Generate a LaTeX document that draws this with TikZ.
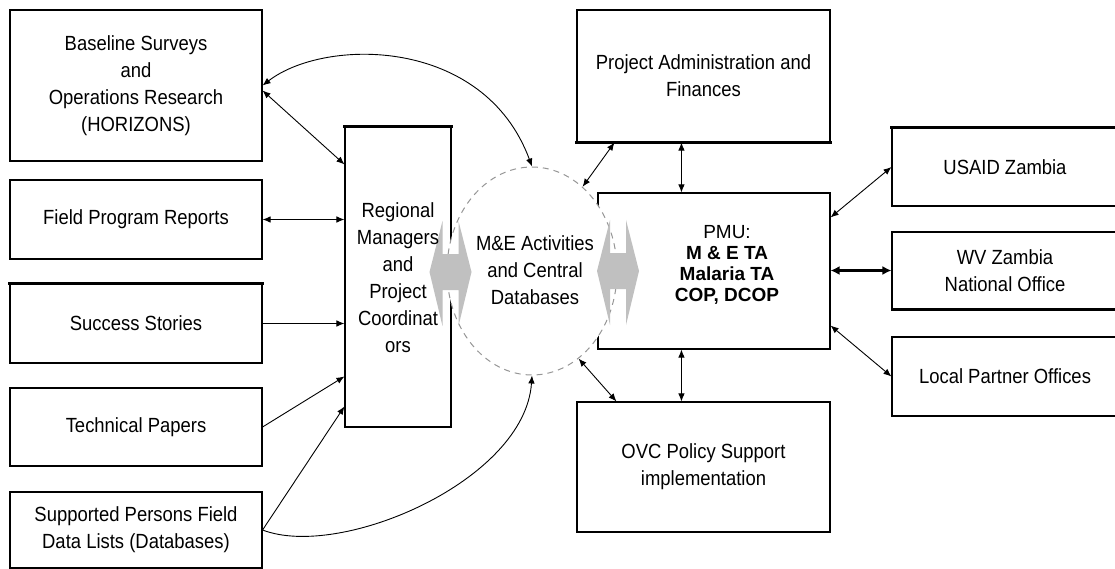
\documentclass[tikz,border=0pt]{standalone}
\usepackage{fontspec}
\setmainfont{Liberation Sans}[FakeStretch=0.9]
\newfontfamily\pmufont{Liberation Sans}
\usetikzlibrary{arrows.meta,calc,shapes.geometric}
\definecolor{arrowgray}{RGB}{192,192,192}
\definecolor{dashgray}{RGB}{150,150,150}

\begin{document}
\begin{tikzpicture}[x=1pt,y=-1pt,
  box/.style={draw=black,line width=1.1pt,fill=white,inner sep=0pt,align=center,
    font=\fontsize{20.5}{27}\selectfont},
  txt/.style={inner sep=0pt,align=center,font=\fontsize{20.5}{27}\selectfont},
  link/.style={line width=0.9pt,black},
  heavylink/.style={line width=2.6pt,black,>={Latex[length=9pt,width=9pt]}},
  edge/.style={line width=3pt,black,line cap=rect},
  >={Latex[length=8pt,width=6.5pt]}]

\useasboundingbox (0,0) rectangle (1115,569);
\clip (0,0) rectangle (1115,569);

% left column of sources
\node[box,minimum width=252,minimum height=151] (base) at (136,85.5)
  {Baseline Surveys\\and\\Operations Research\\(HORIZONS)};
\node[box,minimum width=252,minimum height=79] (field) at (136,219.5) {Field Program Reports};
\node[box,minimum width=252,minimum height=79] (succ) at (136,323.5) {Success Stories};
\node[box,minimum width=252,minimum height=78] (tech) at (136,427) {Technical Papers};
\node[box,minimum width=252,minimum height=76] (supp) at (136,530)
  {Supported Persons Field\\Data Lists (Databases)};

% regional managers
\node[box,minimum width=106,minimum height=300] (reg) at (398,277) {};

% right part
\node[box,minimum width=253,minimum height=132] (admin) at (703.5,76)
  {Project Administration and\\Finances};
\node[box,minimum width=232,minimum height=156] (pmu) at (714,271) {};
\node[box,minimum width=253,minimum height=130] (ovc) at (703.5,467)
  {OVC Policy Support\\implementation};
\node[box,minimum width=226,minimum height=78] (usaid) at (1005,167) {USAID Zambia};
\node[box,minimum width=226,minimum height=77] (wv) at (1005,270.5)
  {WV Zambia\\National Office};
\node[box,minimum width=226,minimum height=79] (local) at (1005,376.5)
  {Local Partner Offices};

% heavier box edges
\draw[edge] (reg.north west) -- (reg.north east);
\draw[edge] (succ.north west) -- (succ.north east);
\draw[edge] (admin.south west) -- (admin.south east);
\draw[edge] (usaid.north west) -- (usaid.north east);
\draw[line width=2pt] (wv.south west) -- (wv.south east);

% central M&E hub
\node[ellipse,draw=dashgray,line width=1pt,dash pattern=on 6pt off 5pt,fill=white,
  minimum width=170,minimum height=208,inner sep=0pt] (me) at (532,271) {};

% grey exchange arrows on both sides of the hub
\coordinate (gl) at (450.5,272);
\coordinate (gr) at (618,271);
\foreach \c in {gl,gr}{
  \fill[arrowgray] ($(\c)+(-21,0)$) -- ($(\c)+(-8,-51)$) -- ($(\c)+(-8,-18)$)
    -- ($(\c)+(8,-18)$) -- ($(\c)+(8,-51)$) -- ($(\c)+(21,0)$)
    -- ($(\c)+(8,54)$) -- ($(\c)+(8,18)$) -- ($(\c)+(-8,18)$)
    -- ($(\c)+(-8,54)$) -- cycle;
}

% texts
\node[txt] (regtext) at (398,277.5)
  {Regional\\Managers\\and\\Project\\Coordinat\\ors};
\node[txt] (metext) at (535,270) {M\&E Activities\\and Central\\Databases};
\node[inner sep=0pt,align=center,font=\pmufont\fontsize{19}{21}\selectfont] (pmutext)
  at (727,265) {PMU:\\\bfseries M \& E TA\\\bfseries Malaria TA\\\bfseries COP, DCOP};

% connectors
\coordinate (ap) at ([xshift=105pt]admin.south west);
\coordinate (op) at ([xshift=105pt]ovc.north west);

\draw[link,<->] (base.east) .. controls +(62,-48) and +(-48,-130) .. (me.north);
\draw[link,<->] ([yshift=-5pt]base.east) -- ([yshift=-38pt]reg.north west);
\draw[link,<->] (field.east) -- (field.east -| reg.west);
\draw[link,->] (succ.east) -- (succ.east -| reg.west);
\draw[link,->] (tech.east) -- ([yshift=-250pt]reg.north west);
\draw[link,->] (supp.east) -- ([yshift=-280pt]reg.north west);
\draw[link,->] (supp.east) .. controls +(78,30) and +(-7,105) .. (me.south);

\draw[link,<->] ([xshift=38pt]admin.south west) -- (me.59);
\draw[link,<->] (ap) -- (ap |- pmu.north);
\draw[link,<->] (op |- pmu.south) -- (op);
\draw[link,<->] (me.-62) -- ([xshift=40pt]ovc.north west);
\draw[link,<->] (usaid.west) -- ([yshift=-25pt]pmu.north east);
\draw[heavylink,<->] (wv.west) -- (wv.west -| pmu.east);
\draw[link,<->] (local.west) -- ([yshift=24pt]pmu.south east);

\end{tikzpicture}
\end{document}
